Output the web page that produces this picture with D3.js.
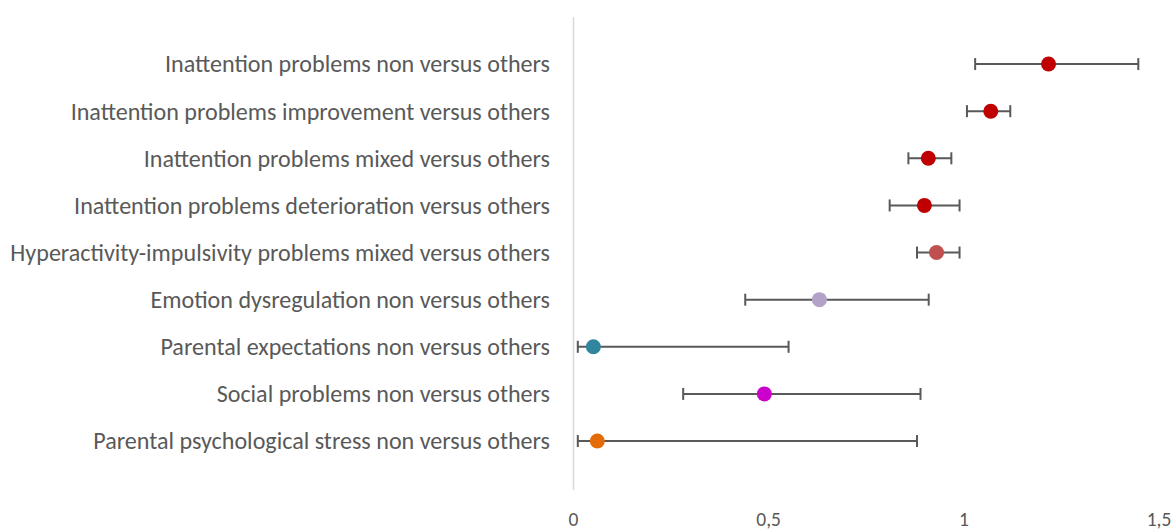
<!DOCTYPE html>
<html>
<head>
<meta charset="utf-8">
<script src="https://cdn.jsdelivr.net/npm/d3@7"></script>
<style>
  html, body { margin: 0; padding: 0; background: #fff; overflow: hidden; }
  svg { display: block; }
</style>
</head>
<body>
<svg id="chart" width="1175" height="530"></svg>
<script>
const categories = [
  "Inattention problems non versus others",
  "Inattention problems improvement versus others",
  "Inattention problems mixed versus others",
  "Inattention problems deterioration versus others",
  "Hyperactivity-impulsivity problems mixed versus others",
  "Emotion dysregulation non versus others",
  "Parental expectations non versus others",
  "Social problems non versus others",
  "Parental psychological stress non versus others"
];
const estimates = [1.217, 1.069, 0.909, 0.899, 0.930, 0.630, 0.051, 0.489, 0.061];
const lowerCI   = [1.029, 1.008, 0.858, 0.810, 0.880, 0.440, 0.011, 0.281, 0.011];
const upperCI   = [1.447, 1.119, 0.968, 0.989, 0.989, 0.910, 0.551, 0.889, 0.880];
const pointColors = ["#C00000", "#C00000", "#C00000", "#C00000", "#C0504D", "#B3A2C7", "#31859C", "#CC00CC", "#E36C09"];
const tickValues = [0, 0.5, 1, 1.5];
const tickLabels = ["0", "0,5", "1", "1,5"];

const svg = d3.select("#chart");
const textColor = "#595959";
const fontFamily = "Carlito, Calibri, 'Liberation Sans', Arial, sans-serif";

const x = d3.scaleLinear().domain([0, 1.5]).range([573.5, 1159]);
const y = d3.scaleBand().domain(categories).range([40.5, 464.6]);
const yc = c => y(c) + y.bandwidth() / 2;

// vertical axis line at 0
svg.append("line")
  .attr("x1", x(0)).attr("x2", x(0))
  .attr("y1", 17).attr("y2", 490)
  .attr("stroke", "#D9D9D9").attr("stroke-width", 1.5);

// x axis tick labels
svg.append("g").selectAll("text")
  .data(tickValues).join("text")
  .attr("x", d => x(d))
  .attr("y", 526)
  .attr("text-anchor", "middle")
  .attr("fill", textColor)
  .style("font-family", fontFamily)
  .style("font-size", "19.5px")
  .text((d, i) => tickLabels[i]);

// category labels
const labels = svg.append("g").selectAll("text")
  .data(categories).join("text")
  .attr("x", 550)
  .attr("y", d => yc(d))
  .attr("dy", "0.35em")
  .attr("text-anchor", "end")
  .attr("fill", textColor)
  .style("font-family", fontFamily)
  .style("font-size", "18px")
  .text(d => d);

// fit font size so the longest label spans ~540px
let maxLen = 0;
labels.each(function() { maxLen = Math.max(maxLen, this.getComputedTextLength()); });
const fs = 18 * 540 / maxLen;
labels.style("font-size", fs + "px");

// error bars
const rows = categories.map((c, i) => ({c, est: estimates[i], lo: lowerCI[i], hi: upperCI[i], col: pointColors[i]}));
const eb = svg.append("g");
eb.selectAll("line.ci").data(rows).join("line")
  .attr("class", "ci")
  .attr("x1", d => x(d.lo)).attr("x2", d => x(d.hi))
  .attr("y1", d => yc(d.c)).attr("y2", d => yc(d.c))
  .attr("stroke", "#595959").attr("stroke-width", 2);
eb.selectAll("line.capl").data(rows).join("line")
  .attr("class", "capl")
  .attr("x1", d => x(d.lo)).attr("x2", d => x(d.lo))
  .attr("y1", d => yc(d.c) - 6).attr("y2", d => yc(d.c) + 6)
  .attr("stroke", "#595959").attr("stroke-width", 2);
eb.selectAll("line.caph").data(rows).join("line")
  .attr("class", "caph")
  .attr("x1", d => x(d.hi)).attr("x2", d => x(d.hi))
  .attr("y1", d => yc(d.c) - 6).attr("y2", d => yc(d.c) + 6)
  .attr("stroke", "#595959").attr("stroke-width", 2);

// points
svg.append("g").selectAll("circle").data(rows).join("circle")
  .attr("cx", d => x(d.est))
  .attr("cy", d => yc(d.c))
  .attr("r", 7.5)
  .attr("fill", d => d.col);
</script>
</body>
</html>
